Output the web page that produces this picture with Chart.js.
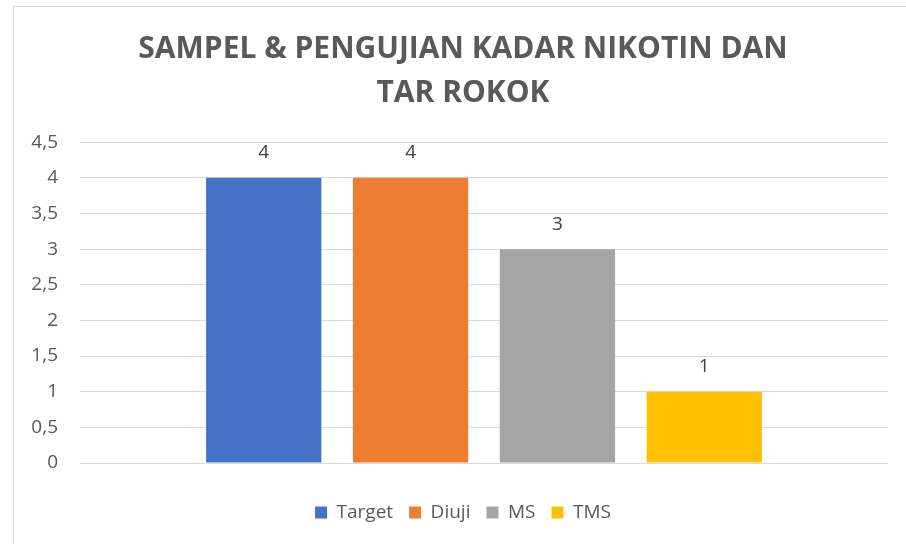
<!DOCTYPE html>
<html>
<head>
<meta charset="utf-8">
<script src="https://cdn.jsdelivr.net/npm/chart.js@4.4.1/dist/chart.umd.min.js"></script>
<style>
  html, body { margin: 0; padding: 0; background: #fff; overflow: hidden; }
  #frame {
    position: absolute; left: 13px; top: 6px;
    width: 900px; height: 545px;
    border: 1px solid #d9d9d9; box-sizing: border-box;
  }
  #wrap { position: absolute; left: 0; top: 0; width: 898px; height: 543px; }
</style>
</head>
<body>
<div id="frame"><div id="wrap"><canvas id="chart"></canvas></div></div>
<script>
// ── Data ─────────────────────────────────────────────────────────────────────

const CATEGORIES = [''];
const SERIES     = ['Target', 'Diuji', 'MS', 'TMS'];
const VALUES     = [4, 4, 3, 1];
const COLORS     = ['#4472C4', '#ED7D31', '#A5A5A5', '#FFC000'];
const Y_MAX      = 4.5;
const Y_STEP     = 0.5;

const TEXT = '#595959';
const FONT = "'Open Sans', 'Liberation Sans', sans-serif";

// ── Plugins ──────────────────────────────────────────────────────────────────

const valueLabels = {
  id: 'valueLabels',
  afterDatasetsDraw(chart) {
    const ctx = chart.ctx;
    ctx.save();
    ctx.font = `19px ${FONT}`;
    ctx.fillStyle = '#404040';
    ctx.textAlign = 'center';
    ctx.textBaseline = 'middle';
    chart.data.datasets.forEach((ds, i) => {
      const bar = chart.getDatasetMeta(i).data[0];
      ctx.fillText(String(ds.data[0]).replace('.', ','), bar.x, bar.y - 25);
    });
    ctx.restore();
  }
};

const legendSpace = {
  id: 'legendSpace',
  beforeInit(chart) {
    const fit = chart.legend.fit;
    chart.legend.fit = function () { fit.call(this); this.height += 18; };
  }
};

// ── Chart ────────────────────────────────────────────────────────────────────

new Chart(document.getElementById('chart'), {
  type: 'bar',
  data: {
    labels: CATEGORIES,
    datasets: SERIES.map((name, i) => ({
      label: name,
      data: [VALUES[i]],
      backgroundColor: COLORS[i],
      borderWidth: 0,
      barPercentage: 0.785,
      categoryPercentage: 0.727
    }))
  },
  options: {
    responsive: true,
    maintainAspectRatio: false,
    animation: false,
    layout: { padding: 0 },
    plugins: {
      title: {
        display: true,
        text: ['SAMPEL & PENGUJIAN KADAR NIKOTIN DAN', 'TAR ROKOK'],
        color: TEXT,
        font: { family: FONT, size: 30, weight: 'bold', lineHeight: 1.47 },
        padding: { top: 20, bottom: 27 }
      },
      legend: {
        position: 'bottom',
        labels: {
          color: TEXT,
          font: { family: FONT, size: 19 },
          boxWidth: 12,
          boxHeight: 12,
          padding: 16
        }
      },
      tooltip: { enabled: false }
    },
    scales: {
      x: {
        grid: { display: false },
        border: { display: false },
        ticks: { display: false },
        afterFit(scale) { scale.height = 24; }
      },
      y: {
        min: 0,
        max: Y_MAX,
        ticks: {
          stepSize: Y_STEP,
          color: TEXT,
          padding: 22,
          font: { family: FONT, size: 19 },
          callback: v => String(v).replace('.', ',')
        },
        grid: { color: '#d9d9d9', lineWidth: 1, drawTicks: false },
        border: { display: false },
        afterFit(scale) { scale.width = 66; }
      },
      // empty right margin so the title stays centred on the whole frame
      yRight: {
        position: 'right',
        min: 0,
        max: Y_MAX,
        grid: { display: false },
        border: { display: false },
        ticks: { display: false },
        afterFit(scale) { scale.width = 24; }
      }
    }
  },
  plugins: [valueLabels, legendSpace]
});
</script>
</body>
</html>
